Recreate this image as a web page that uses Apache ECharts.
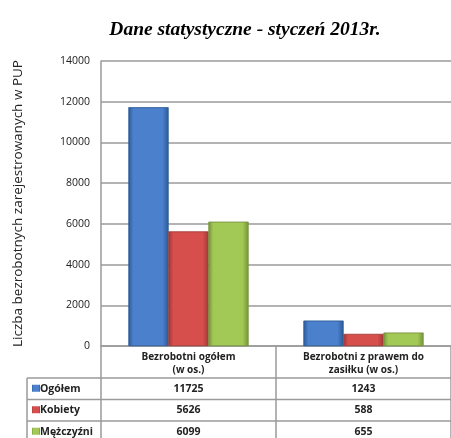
<!DOCTYPE html>
<html><head><meta charset="utf-8">
<script src="https://cdn.jsdelivr.net/npm/echarts@6/dist/echarts.min.js"></script>
<style>html,body{margin:0;padding:0;background:#fff}#c{width:451px;height:438px}</style>
</head><body><div id="c"></div>
<script>
const title = 'Dane statystyczne - styczeń 2013r.';
const yName = 'Liczba bezrobotnych zarejestrowanych w PUP';
const categories = ['Bezrobotni ogółem\n(w os.)', 'Bezrobotni z prawem do\nzasiłku (w os.)'];
const seriesNames = ['Ogółem', 'Kobiety', 'Mężczyźni'];
const ogolem = [11725, 1243];
const kobiety = [5626, 588];
const mezczyzni = [6099, 655];
const yTicks = [0, 2000, 4000, 6000, 8000, 10000, 12000, 14000];

const values = [ogolem, kobiety, mezczyzni];
const cols = [
  ['#2c5a96', '#4a80cc', '#2c5a96'],
  ['#a03a37', '#d64f4c', '#a03a37'],
  ['#76933c', '#a2c855', '#76933c']
];
function grad(c) {
  return new echarts.graphic.LinearGradient(0, 0, 1, 0, [
    {offset: 0, color: c[0]}, {offset: 0.12, color: c[1]}, {offset: 0.85, color: c[1]}, {offset: 1, color: c[2]}
  ]);
}
const chart = echarts.init(document.getElementById('c'), null, {renderer: 'canvas'});
const gridC = '#9a9a9a';
const option = {
  animation: false,
  title: {text: title, left: 240, top: 15, textAlign: 'center',
    textStyle: {fontFamily: 'Liberation Serif', fontStyle: 'italic', fontWeight: 'bold', fontSize: 19.5, color: '#000'}},
  grid: {left: 101, right: 0, top: 61, bottom: 92},
  xAxis: {type: 'category', data: categories,
    axisLine: {lineStyle: {color: gridC, width: 1.5}},
    axisTick: {show: true, length: 92, lineStyle: {color: gridC, width: 1.5}},
    axisLabel: {margin: 5, fontFamily: 'Open Sans', fontWeight: 'bold', fontSize: 10, lineHeight: 13, color: '#222'}},
  yAxis: {type: 'value', min: yTicks[0], max: yTicks[yTicks.length - 1], interval: 2000,
    name: yName, nameLocation: 'middle', nameGap: 76, nameRotate: 90,
    nameTextStyle: {fontFamily: 'Open Sans', fontSize: 13.5, color: '#222'},
    axisLine: {show: true, lineStyle: {color: gridC, width: 1.5}},
    axisTick: {show: false},
    axisLabel: {margin: 11, fontFamily: 'Open Sans', fontSize: 10.5, color: '#222', formatter: v => String(v)},
    splitLine: {lineStyle: {color: gridC, width: 1.5}}},
  series: seriesNames.map((n, i) => ({
    name: n, type: 'bar', data: values[i], barWidth: 40, barGap: '0%',
    itemStyle: {color: grad(cols[i]), borderColor: cols[i][0], borderWidth: 0.5}
  }))
};
chart.setOption(option);

// data table below axis
const rowY = [378, 399.5, 421];
const rowH = 21.5;
const g = [];
rowY.forEach(y => g.push({type: 'line', shape: {x1: 27, y1: y, x2: 451, y2: y}, style: {stroke: gridC, lineWidth: 1.5}}));
g.push({type: 'line', shape: {x1: 27, y1: 378, x2: 27, y2: 438}, style: {stroke: gridC, lineWidth: 1.5}});
seriesNames.forEach((n, i) => {
  const yc = rowY[i] + rowH / 2;
  g.push({type: 'rect', shape: {x: 32, y: yc - 4, width: 8, height: 7}, style: {fill: grad(cols[i])}});
  g.push({type: 'text', style: {x: 40, y: yc, text: n, verticalAlign: 'middle', font: 'bold 10.5px "Open Sans"', fill: '#222'}});
  values[i].forEach((v, j) => {
    const x = chart.convertToPixel({xAxisIndex: 0}, j);
    g.push({type: 'text', style: {x: x, y: yc, text: String(v), align: 'center', verticalAlign: 'middle', font: 'bold 10.5px "Open Sans"', fill: '#222'}});
  });
});
chart.setOption({graphic: g});
</script></body></html>
